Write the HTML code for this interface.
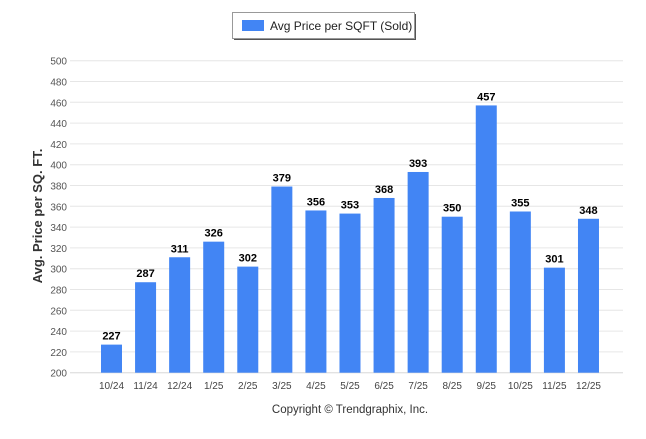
<!DOCTYPE html>
<html><head><meta charset="utf-8"><style>
body{margin:0;background:#fff;width:646px;height:434px;overflow:hidden;font-family:"Liberation Sans",Arial,sans-serif}
</style></head><body>
<svg width="646" height="434" xmlns="http://www.w3.org/2000/svg">
<g>
<rect x="234" y="14" width="182" height="26" fill="#555"/>
<rect x="232.5" y="12.5" width="182" height="26" fill="#fff" stroke="#999"/>
<rect x="242" y="20" width="22" height="11" fill="#4285f4"/>
<text x="270" y="30" font-size="12" fill="#222">Avg Price per SQFT (Sold)</text>
</g>
<text transform="translate(42,216) rotate(-90)" text-anchor="middle" font-size="13" font-weight="bold" fill="#333">Avg. Price per SQ. FT.</text>
<g id="grid"></g><g id="bars"></g>
<text x="350" y="413" text-anchor="middle" font-size="11.5" fill="#333">Copyright © Trendgraphix, Inc.</text>
</svg>
<script>
const categories=["10/24","11/24","12/24","1/25","2/25","3/25","4/25","5/25","6/25","7/25","8/25","9/25","10/25","11/25","12/25"];
const values=[227,287,311,326,302,379,356,353,368,393,350,457,355,301,348];
const yTicks=[200,220,240,260,280,300,320,340,360,380,400,420,440,460,480,500];
const NS="http://www.w3.org/2000/svg";
const y=v=>372.7-(v-200)*1.04;
const x=i=>111.5+i*34.07;
const g=document.getElementById('grid'),b=document.getElementById('bars');
function mk(t,a,p){const e=document.createElementNS(NS,t);for(const k in a)e.setAttribute(k,a[k]);p.appendChild(e);return e;}
yTicks.forEach(v=>{
 const l=mk('line',{x1:70,x2:623,y1:y(v),y2:y(v),stroke:'#e6e6e6'},g);
 
 
 const t=mk('text',{x:67,y:y(v)+4,'text-anchor':'end','font-size':'10',fill:'#555'},g);
 t.textContent=v;
 
 
});
const ax=mk('line',{x1:70,x2:623,y1:372.7,y2:372.7,stroke:'#ddd'},g);


categories.forEach((c,i)=>{
 const v=values[i];
 const r=mk('rect',{x:x(i)-10.5,y:y(v),width:21,height:372.7-y(v),fill:'#4285f4'},b);
 
 
 const vl=mk('text',{x:x(i),y:y(v)-5,'text-anchor':'middle','font-size':'11','font-weight':'bold',fill:'#000'},b);
 vl.textContent=v;
 
 
 const xl=mk('text',{x:x(i),y:389,'text-anchor':'middle','font-size':'10',fill:'#444'},b);
 xl.textContent=c;
 
 
});
</script>
</body></html>
